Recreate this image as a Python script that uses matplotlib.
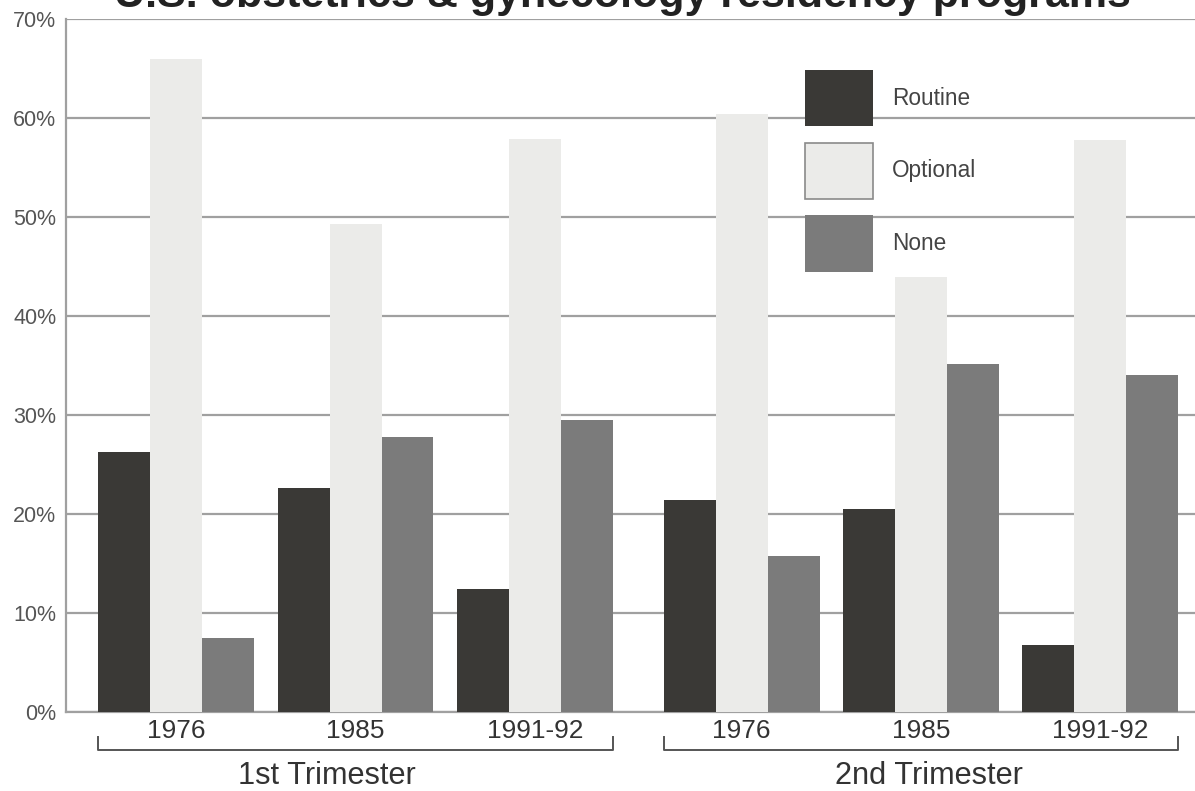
import matplotlib
matplotlib.use("Agg")
import matplotlib.pyplot as plt
from matplotlib.patches import Patch
from matplotlib.transforms import blended_transform_factory
from matplotlib import font_manager

# ---- data ----
trimesters = ["1st Trimester", "2nd Trimester"]
years = ["1976", "1985", "1991-92"]
series = ["Routine", "Optional", "None"]
routine = [26.3, 22.6, 12.4, 21.4, 20.5, 6.8]
optional = [66.0, 49.3, 57.9, 60.4, 43.9, 57.8]
none = [7.5, 27.8, 29.5, 15.8, 35.2, 34.0]
yticks = [0, 10, 20, 30, 40, 50, 60, 70]
ytick_labels = ["0%", "10%", "20%", "30%", "40%", "50%", "60%", "70%"]
title = "U.S. obstetrics & gynecology residency programs"

colors = ["#3a3936", "#ebebe9", "#7b7b7b"]

names = {f.name for f in font_manager.fontManager.ttflist}
narrow = "Liberation Sans Narrow" if "Liberation Sans Narrow" in names else "Liberation Sans"
narrow_scale = 1.0 if narrow == "Liberation Sans Narrow" else 0.82

W, H = 1195, 791
fig = plt.figure(figsize=(W / 100, H / 100), dpi=100)
ax = fig.add_axes([66 / W, (H - 712) / H, (W - 66) / W, (712 - 19) / H])

group_step = 3.45
tri_gap = 0.53
group_x = []
for t in range(len(trimesters)):
    for i in range(len(years)):
        group_x.append(t * (len(years) * group_step + tri_gap) + i * group_step)

vals = [routine, optional, none]
for k, (s, v) in enumerate(zip(series, vals)):
    ax.bar([g + k for g in group_x], v, width=1.0, align="edge",
           color=colors[k], edgecolor="none", zorder=3, label=s)

ax.set_xlim(-0.62, 21.1)
ax.set_ylim(0, 70)
ax.set_yticks(yticks)
ax.set_yticklabels(ytick_labels, fontsize=15.5, color="#555555",
                   family="Liberation Sans")
ax.tick_params(axis="y", length=0, pad=7)
ax.set_xticks([])
ax.grid(axis="y", color="#a0a0a0", linewidth=1.6, zorder=0)
for sp in ["top", "right"]:
    ax.spines[sp].set_visible(False)
for sp in ["left", "bottom"]:
    ax.spines[sp].set_color("#a0a0a0")
    ax.spines[sp].set_linewidth(1.6)

# year labels
btrans = blended_transform_factory(ax.transData, fig.transFigure)
for g, yl in zip(group_x, years * len(trimesters)):
    ax.text(g + 1.5, 1 - 731 / H, yl, transform=btrans, ha="center", va="center",
            fontsize=23 * narrow_scale, family=narrow, color="#333333")

# brackets and trimester labels
label_offsets = [-0.55, 0.15]
for t, name in enumerate(trimesters):
    x0 = group_x[t * len(years)]
    x1 = group_x[t * len(years) + len(years) - 1] + 3
    yb = 1 - 750 / H
    yt = 1 - 737 / H
    ax.plot([x0, x0, x1, x1], [yt, yb, yb, yt], transform=btrans, color="#555555",
            lw=1.4, clip_on=False)
    ax.text((x0 + x1) / 2 + label_offsets[t], 1 - 776 / H, name, transform=btrans,
            ha="center", va="center", fontsize=27 * narrow_scale, family=narrow,
            color="#333333")

# legend
handles = [Patch(facecolor=colors[0], edgecolor="none"),
           Patch(facecolor=colors[1], edgecolor="#8a8a8a", linewidth=1.2),
           Patch(facecolor=colors[2], edgecolor="none")]
leg = ax.legend(handles, series, loc="upper left",
                bbox_to_anchor=((805 - 66) / (W - 66), (712 - 70) / (712 - 19)),
                frameon=False, borderpad=0, borderaxespad=0,
                handlelength=3.0, handleheight=3.45, labelspacing=0.72,
                handletextpad=0.85, prop={"family": "Liberation Sans", "size": 16.3})
for txt in leg.get_texts():
    txt.set_color("#444444")

# title (cut off at top, as in source)
fig.text(622 / W, 1 - 6.5 / H, title, ha="center", va="baseline",
         fontsize=31, fontweight="bold", family="Liberation Sans", color="#222222")

fig.savefig("out.png", dpi=100)
